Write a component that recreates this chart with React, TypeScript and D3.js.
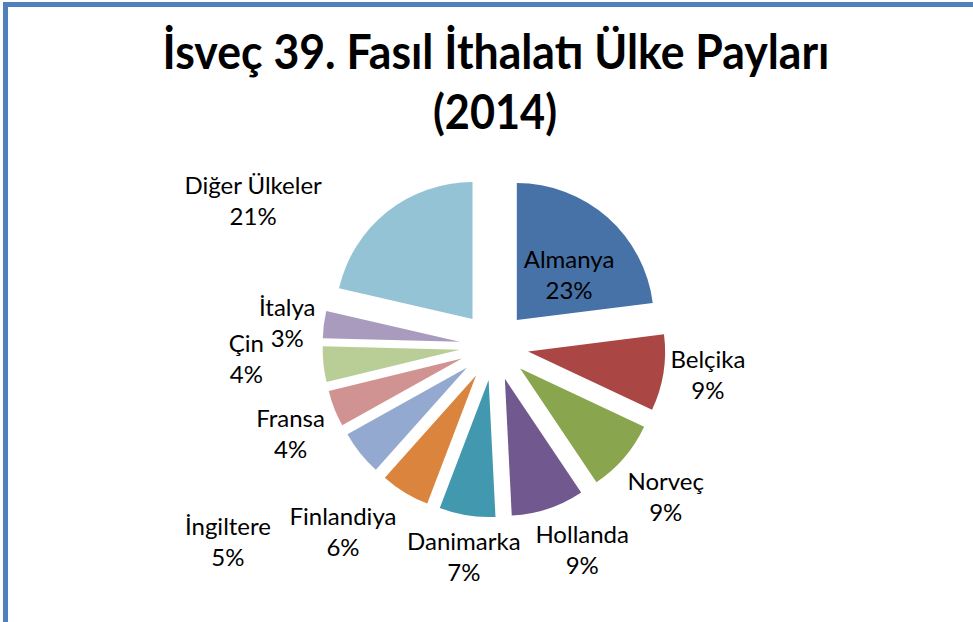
import React from "react";
import * as d3 from "d3";

const countries = ["Almanya", "Belçika", "Norveç", "Hollanda", "Danimarka", "Finlandiya", "İngiltere", "Fransa", "Çin", "İtalya", "Diğer Ülkeler"];
const shares = [23.0, 9.0, 8.6, 8.6, 6.6, 5.8, 5.3, 4.3, 4.2, 3.2, 21.4];
const titleLines = ["İsveç 39. Fasıl İthalatı Ülke Payları", "(2014)"];

// layout (not data): label placement in polar coordinates from pie centre
const labelAngleDeg = [46.8, 97.9, 131.4, 156.7, 188.1, 219.0, 233.5, 246.4, 266.9, 276.2, 301.0];
const labelRadius = [103, 216, 229, 223, 214, 240, 331, 222, 248, 208, 281];
const colors = ["#4672A8", "#AA4644", "#89A54E", "#71588F", "#4298AF", "#DB843D", "#93A9CF", "#D19392", "#B9CD96", "#A99BBD", "#93C3D4"];

const W = 973, H = 622;
const cx = 494, cy = 346, R = 137, explode = 34.5;
const font = "Lato, 'Open Sans', sans-serif";

export default function App() {
  const pie = d3.pie<number>().sort(null).value((d) => d).startAngle(0).endAngle(2 * Math.PI);
  const arcs = pie(shares);
  const arc = d3.arc<d3.PieArcDatum<number>>().innerRadius(0).outerRadius(R);
  const total = d3.sum(shares);

  return (
    <svg width={W} height={H} style={{ position: "absolute", left: 0, top: 0, background: "#fff" }}>
      <rect x={5.5} y={4.5} width={1200} height={1200} fill="#fff" stroke="#4F81BD" strokeWidth={5} />
      <g fontFamily={font} fontWeight="bold" fontSize={47} textAnchor="middle" fill="#000">
        <text x={496} y={69} textLength={667} lengthAdjust="spacingAndGlyphs">{titleLines[0]}</text>
        <text x={495} y={129} textLength={124} lengthAdjust="spacingAndGlyphs">{titleLines[1]}</text>
      </g>
      <g transform={`translate(${cx},${cy})`}>
        {arcs.map((a, i) => {
          const mid = (a.startAngle + a.endAngle) / 2;
          const dx = Math.sin(mid) * explode;
          const dy = -Math.cos(mid) * explode;
          return (
            <path key={countries[i]} d={arc(a) || ""} transform={`translate(${dx},${dy})`} fill={colors[i]} />
          );
        })}
        {arcs.map((a, i) => {
          const ang = (labelAngleDeg[i] * Math.PI) / 180;
          const lx = Math.sin(ang) * labelRadius[i];
          const ly = -Math.cos(ang) * labelRadius[i];
          const pct = Math.round((a.value / total) * 100) + "%";
          return (
            <text key={"l" + i} x={lx} y={ly - 7.5} textAnchor="middle" fontFamily={font} fontSize={24} fill="#000">
              <tspan x={lx} dy={0}>{countries[i]}</tspan>
              <tspan x={lx} dy={31}>{pct}</tspan>
            </text>
          );
        })}
      </g>
    </svg>
  );
}
